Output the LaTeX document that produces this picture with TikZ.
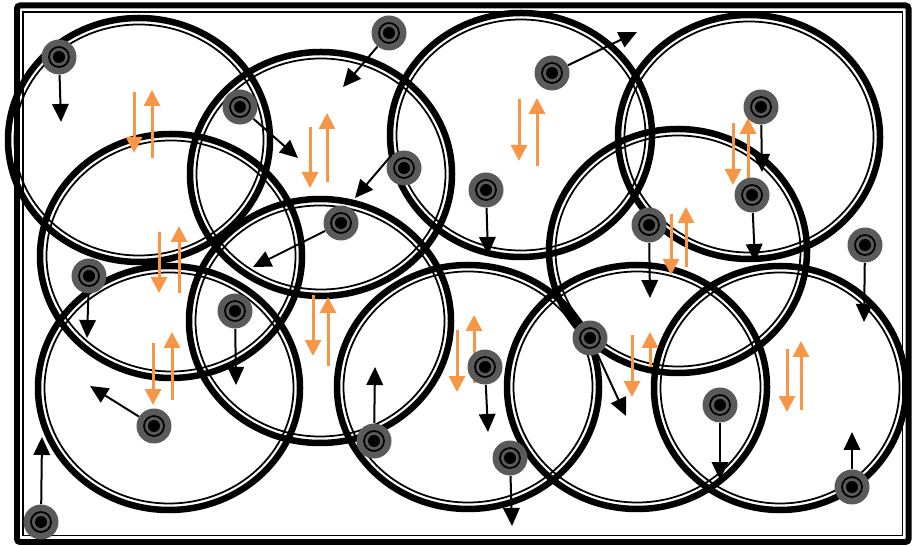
\documentclass[tikz,border=0pt]{standalone}
\usetikzlibrary{arrows.meta}
\definecolor{flow}{RGB}{247,150,70}
\definecolor{devgray}{RGB}{90,90,90}

\begin{document}
\begin{tikzpicture}[x=0.02cm, y=-0.02cm,
	dev/.style={circle, fill=devgray, minimum size=0.7cm, inner sep=0pt,
		path picture={\draw[black, line width=0.035cm] (path picture bounding box.center) circle (0.2cm);
			\fill[black] (path picture bounding box.center) circle (0.12cm);}},
	mv/.style={-{Triangle[length=0.36cm,width=0.33cm]}, line width=0.04cm},
	fl/.style={-{Triangle[length=0.32cm,width=0.32cm]}, line width=0.06cm, flow}]
	\useasboundingbox (0,0) rectangle (912,546);
	\draw[line width=0.12cm, rounded corners=0.06cm] (17,5.5) rectangle (908.5,542);
	\draw[line width=0.03cm] (23,12) rectangle (902.5,535.5);
	% cells
	\foreach \x/\y/\a/\b in {139/140/131/122, 321/174/131/122, 521/135/131/122, 749/137/131/122,
		171/256/131/122, 320/321/131/122, 678/251/129/122, 169/388/131/122,
		468/387/131/122, 637/387/130/122, 780/388/126/122} {
		\draw[line width=0.13cm] (\x,\y) ellipse ({\a} and {\b});
		\draw[line width=0.035cm] (\x,\y) ellipse ({\a-6.5} and {\b-6.5});
	}
	% up and down flows
	\foreach \p/\q/\r/\s/\t/\u in {134/92/153/152/158/90, 310/127/188/327/182/113,
		519/99/161/537/166/98, 733/123/185/748/178/118, 159/232/293/179/293/226,
		153/343/405/172/400/332, 313/295/356/328/366/297, 457/330/392/474/383/315,
		671/214/275/686/267/207, 632/335/397/650/367/332, 787/349/412/801/410/341} {
		\draw[fl] (\p,\q) -- (\p,\r);
		\draw[fl] (\s,\t) -- (\s,\u);
	}
	% users
	\foreach \i/\x/\y/\tx/\ty in {1/59/57/61/122, 2/240/107/298/158, 3/389/33/343/87,
		4/404/168/355/198, 5/552/73/637/32, 6/486/190/488/255, 7/341/223/253/267,
		8/761/107/762/172, 9/752/195/755/262, 10/649/225/650/298, 11/865/245/864/322,
		12/89/276/87/338, 13/235/311/236/385, 14/590/338/626/416, 15/485/367/488/432,
		16/374/441/375/367, 17/154/426/90/386, 18/510/458/512/526, 19/720/405/720/480,
		20/852/487/852/432, 21/41/522/42/437} {
		\node[dev] (u\i) at (\x,\y) {};
		\coordinate (u\i t) at (\tx,\ty);
	}
	\foreach \i in {1,2,3,5,6,7,8,9,10,11,12,13,14,15,16,17,18,19,20,21}
		\draw[mv] (u\i) -- (u\i t);
	\draw[mv] (u4.135) -- (u4t);
\end{tikzpicture}
\end{document}
